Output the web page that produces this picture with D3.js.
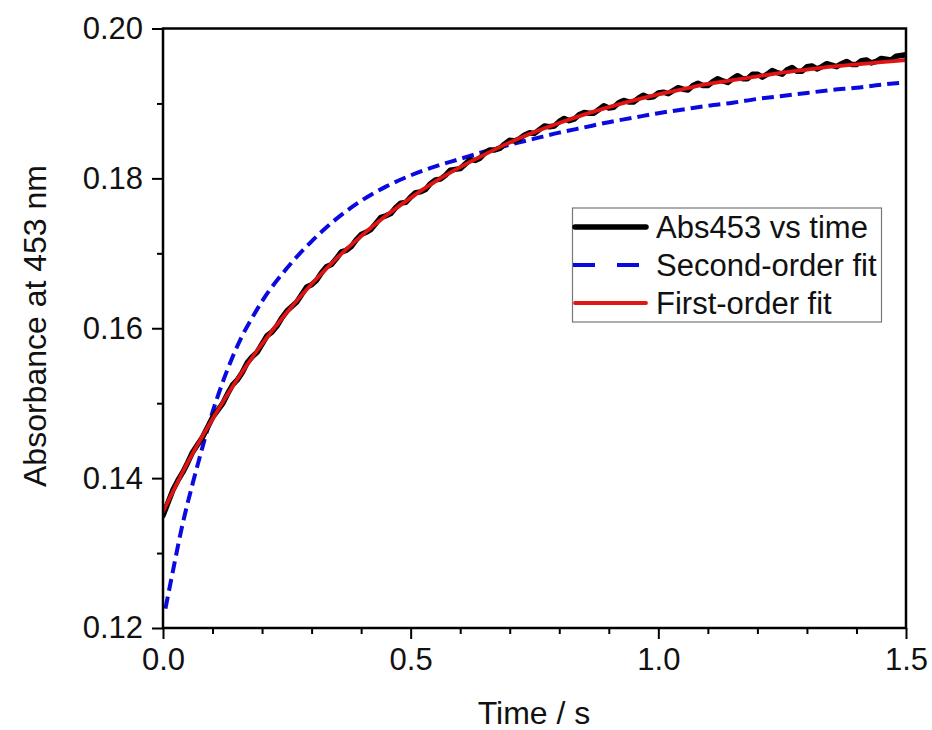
<!DOCTYPE html>
<html>
<head>
<meta charset="utf-8">
<script src="https://cdn.jsdelivr.net/npm/d3@7"></script>
<style>
  html, body { margin: 0; padding: 0; background: #fff; }
  svg { display: block; }
  text { font-family: "Liberation Sans", Arial, sans-serif; fill: #111; }
</style>
</head>
<body>
<svg id="chart" width="932" height="730"></svg>
<script>
// ---- data ----
const dataTimes = [0.00,0.01,0.02,0.03,0.04,0.05,0.06,0.07,0.08,0.09,0.10,0.11,0.12,0.13,0.14,0.15,0.16,0.17,0.18,0.19,
0.20,0.21,0.22,0.23,0.24,0.25,0.26,0.27,0.28,0.29,0.30,0.31,0.32,0.33,0.34,0.35,0.36,0.37,0.38,0.39,
0.40,0.41,0.42,0.43,0.44,0.45,0.46,0.47,0.48,0.49,0.50,0.51,0.52,0.53,0.54,0.55,0.56,0.57,0.58,0.59,
0.60,0.61,0.62,0.63,0.64,0.65,0.66,0.67,0.68,0.69,0.70,0.71,0.72,0.73,0.74,0.75,0.76,0.77,0.78,0.79,
0.80,0.81,0.82,0.83,0.84,0.85,0.86,0.87,0.88,0.89,0.90,0.91,0.92,0.93,0.94,0.95,0.96,0.97,0.98,0.99,
1.00,1.01,1.02,1.03,1.04,1.05,1.06,1.07,1.08,1.09,1.10,1.11,1.12,1.13,1.14,1.15,1.16,1.17,1.18,1.19,
1.20,1.21,1.22,1.23,1.24,1.25,1.26,1.27,1.28,1.29,1.30,1.31,1.32,1.33,1.34,1.35,1.36,1.37,1.38,1.39,
1.40,1.41,1.42,1.43,1.44,1.45,1.46,1.47,1.48,1.49,1.50];
const absValues = [0.1350,0.1367,0.1384,0.1397,0.1408,0.1421,0.1435,0.1445,0.1455,0.1468,0.1481,0.1490,0.1499,0.1512,0.1524,0.1531,0.1541,0.1554,0.1562,0.1568,
0.1579,0.1590,0.1595,0.1603,0.1614,0.1623,0.1629,0.1635,0.1645,0.1655,0.1658,0.1664,0.1674,0.1682,0.1685,0.1693,0.1702,0.1704,0.1709,0.1718,
0.1725,0.1728,0.1732,0.1740,0.1748,0.1750,0.1753,0.1761,0.1767,0.1768,0.1775,0.1781,0.1782,0.1785,0.1793,0.1798,0.1799,0.1804,0.1811,0.1812,
0.1813,0.1819,0.1825,0.1824,0.1827,0.1834,0.1838,0.1838,0.1840,0.1846,0.1851,0.1850,0.1853,0.1858,0.1861,0.1860,0.1865,0.1870,0.1869,0.1870,
0.1876,0.1880,0.1877,0.1879,0.1885,0.1888,0.1887,0.1887,0.1892,0.1897,0.1894,0.1895,0.1901,0.1904,0.1902,0.1902,0.1907,0.1911,0.1908,0.1909,
0.1914,0.1915,0.1913,0.1917,0.1921,0.1919,0.1918,0.1924,0.1927,0.1924,0.1924,0.1929,0.1933,0.1930,0.1928,0.1933,0.1937,0.1933,0.1933,0.1939,
0.1939,0.1935,0.1939,0.1944,0.1941,0.1939,0.1945,0.1948,0.1943,0.1943,0.1949,0.1950,0.1946,0.1949,0.1953,0.1951,0.1949,0.1953,0.1956,0.1952,
0.1952,0.1957,0.1958,0.1954,0.1956,0.1960,0.1959,0.1958,0.1963,0.1964,0.1965];

const firstTimes = [0.00,0.05,0.10,0.15,0.20,0.25,0.30,0.35,0.40,0.45,0.50,0.55,0.60,0.65,0.70,0.75,0.80,0.85,0.90,0.95,1.00,1.05,1.10,1.15,1.20,1.25,1.30,1.35,1.40,1.45,1.50];
const firstValues = [0.1355,0.1421,0.1479,0.1532,0.1579,0.1621,0.1659,0.1693,0.1723,0.1750,0.1774,0.1796,0.1815,0.1832,0.1848,0.1862,0.1874,0.1885,0.1895,0.1904,0.1912,0.1919,0.1926,0.1931,0.1936,0.1941,0.1945,0.1949,0.1952,0.1955,0.1958];

const secondTimes = [0.005,0.02,0.04,0.06,0.08,0.10,0.12,0.14,0.16,0.18,0.20,0.25,0.30,0.35,0.40,0.45,0.50,0.55,0.60,0.65,0.70,0.75,0.80,0.85,0.90,0.95,1.00,1.05,1.10,1.15,1.20,1.25,1.30,1.35,1.40,1.45,1.50];
const secondValues = [0.1226,0.1276,0.1340,0.1393,0.1442,0.1488,0.1527,0.1561,0.1590,0.1614,0.1636,0.1680,0.1716,0.1746,0.1770,0.1789,0.1804,0.1816,0.1826,0.1836,0.1845,0.1853,0.1861,0.1868,0.1875,0.1881,0.1887,0.1892,0.1897,0.1901,0.1906,0.1910,0.1914,0.1918,0.1921,0.1925,0.1928];

const xMajorTicks = [0.0, 0.5, 1.0, 1.5];
const xMinorTicks = [0.1,0.2,0.3,0.4,0.6,0.7,0.8,0.9,1.1,1.2,1.3,1.4];
const yMajorTicks = [0.12, 0.14, 0.16, 0.18, 0.20];
const yMinorTicks = [0.13, 0.15, 0.17, 0.19];

const seriesNames = ["Abs453 vs time", "Second-order fit", "First-order fit"];
const seriesColors = ["#000000", "#0a0ae0", "#e01414"];

// ---- layout ----
const L = 163, R = 906, T = 28.5, B = 628;
const svg = d3.select("#chart");
const x = d3.scaleLinear().domain([0, 1.5]).range([L, R]);
const y = d3.scaleLinear().domain([0.12, 0.20]).range([B, T]);

svg.append("defs").append("clipPath").attr("id", "clip")
  .append("rect").attr("x", L).attr("y", T).attr("width", R - L).attr("height", B - T);

const plot = svg.append("g").attr("clip-path", "url(#clip)");

const blackPts = dataTimes.map((t, i) => [t, absValues[i]]);
const bluePts = secondTimes.map((t, i) => [t, secondValues[i]]);
const redPts = firstTimes.map((t, i) => [t, firstValues[i]]);

plot.append("path").datum(bluePts)
  .attr("d", d3.line().x(d => x(d[0])).y(d => y(d[1])).curve(d3.curveMonotoneX))
  .attr("fill", "none").attr("stroke", seriesColors[1]).attr("stroke-width", 4)
  .attr("stroke-dasharray", "12,6");

plot.append("path").datum(blackPts)
  .attr("d", d3.line().x(d => x(d[0])).y(d => y(d[1])).curve(d3.curveLinear))
  .attr("fill", "none").attr("stroke", seriesColors[0]).attr("stroke-width", 5.5)
  .attr("stroke-linejoin", "round").attr("stroke-linecap", "round");

plot.append("path").datum(redPts)
  .attr("d", d3.line().x(d => x(d[0])).y(d => y(d[1])).curve(d3.curveMonotoneX))
  .attr("fill", "none").attr("stroke", seriesColors[2]).attr("stroke-width", 3.8)
  .attr("stroke-linecap", "round");

// ---- axes ----
const fontSize = 31;
const xAxisMajor = d3.axisBottom(x).tickValues(xMajorTicks).tickSize(11).tickPadding(9).tickFormat(d3.format(".1f"));
const xAxisMinor = d3.axisBottom(x).tickValues(xMinorTicks).tickSize(6).tickFormat("");
const yAxisMajor = d3.axisLeft(y).tickValues(yMajorTicks).tickSize(11).tickPadding(9).tickFormat(d3.format(".2f"));
const yAxisMinor = d3.axisLeft(y).tickValues(yMinorTicks).tickSize(6).tickFormat("");

function styleAxis(g) {
  g.select(".domain").remove();
  g.selectAll(".tick line").attr("stroke", "#000").attr("stroke-width", 2);
  g.selectAll(".tick text").attr("font-size", fontSize).attr("font-family", "Liberation Sans, Arial, sans-serif").attr("fill", "#111");
}
svg.append("g").attr("transform", `translate(0,${B})`).call(xAxisMinor).call(styleAxis);
svg.append("g").attr("transform", `translate(0,${B})`).call(xAxisMajor).call(styleAxis);
svg.append("g").attr("transform", `translate(${L},0)`).call(yAxisMinor).call(styleAxis);
svg.append("g").attr("transform", `translate(${L},0)`).call(yAxisMajor).call(styleAxis);

svg.append("rect").attr("x", L).attr("y", T).attr("width", R - L).attr("height", B - T)
  .attr("fill", "none").attr("stroke", "#000").attr("stroke-width", 2.5);

// axis titles
svg.append("text").attr("x", 534).attr("y", 724).attr("text-anchor", "middle")
  .attr("font-size", 32).text("Time / s");
svg.append("text").attr("transform", "translate(46,326) rotate(-90)").attr("text-anchor", "middle")
  .attr("font-size", 32).text("Absorbance at 453 nm");

// ---- legend ----
const lg = svg.append("g");
lg.append("rect").attr("x", 572.5).attr("y", 208).attr("width", 309).attr("height", 114)
  .attr("fill", "#fff").attr("stroke", "#777").attr("stroke-width", 1.2);
const rowsY = [227, 265, 303];
const legendStyles = [
  { w: 5.5, dash: null },
  { w: 4, dash: "22,22" },
  { w: 3.8, dash: null }
];
seriesNames.forEach((name, i) => {
  const ln = lg.append("line").attr("x1", 575).attr("x2", 646).attr("y1", rowsY[i]).attr("y2", rowsY[i])
    .attr("stroke", seriesColors[i]).attr("stroke-width", legendStyles[i].w).attr("stroke-linecap", i === 1 ? "butt" : "round");
  if (legendStyles[i].dash) ln.attr("stroke-dasharray", legendStyles[i].dash).attr("x1", 573).attr("x2", 640);
  lg.append("text").attr("x", 656).attr("y", rowsY[i]).attr("dy", "0.36em")
    .attr("font-size", 31).text(name);
});
</script>
</body>
</html>
